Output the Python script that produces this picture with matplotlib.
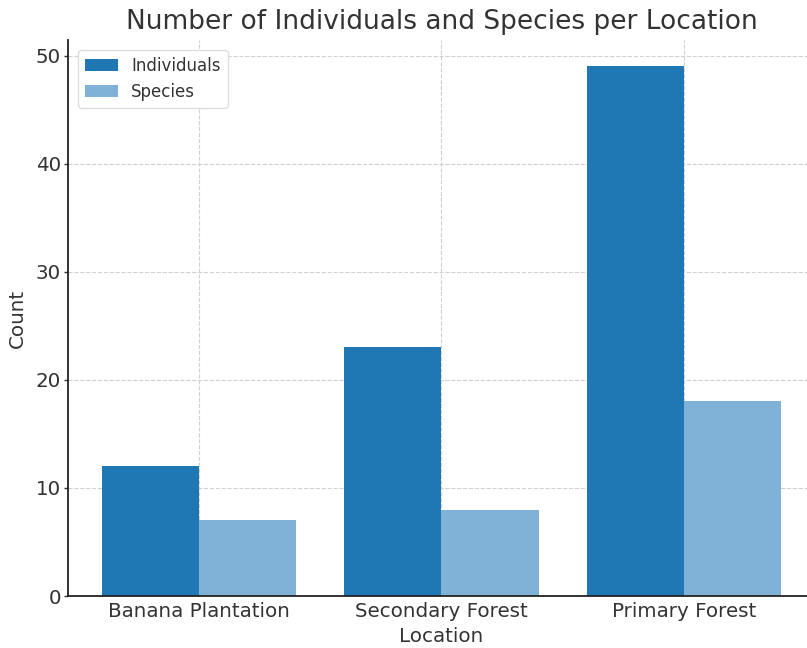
import numpy as np
import matplotlib.pyplot as plt

# counts per sampling location
locations = ['Banana Plantation', 'Secondary Forest', 'Primary Forest']
individuals = [12, 23, 49]
species = [7, 8, 18]

text_col = '#333333'
plt.rcParams['font.family'] = 'DejaVu Sans'
plt.rcParams['text.color'] = text_col
plt.rcParams['axes.labelcolor'] = text_col
plt.rcParams['xtick.color'] = text_col
plt.rcParams['ytick.color'] = text_col

fig = plt.figure(figsize=(8.07, 6.48), dpi=100)
ax = fig.add_axes([68 / 807, 52 / 648, (815 - 68) / 807, 556 / 648])

x = np.arange(len(locations))
width = 0.4

ax.bar(x - width / 2, individuals, width, label='Individuals', color='#1f77b4', zorder=2)
ax.bar(x + width / 2, species, width, label='Species', color='#7fb2d6', zorder=2)

ax.set_xticks(x)
ax.set_xticklabels(locations, fontsize=14.3)
ax.set_xlim(-0.54, 2.54)
ax.set_ylim(0, 51.45)
ax.set_yticks([0, 10, 20, 30, 40, 50])
ax.tick_params(axis='y', labelsize=14.3, length=3, width=1, pad=2)
ax.tick_params(axis='x', length=3, width=1, direction='in', pad=4)

ax.set_xlabel('Location', fontsize=14.3, labelpad=5)
ax.set_ylabel('Count', fontsize=14.3, labelpad=6)
ax.set_title('Number of Individuals and Species per Location', fontsize=19, pad=8)

ax.grid(True, linestyle='--', color='#d0d0d0', linewidth=0.8, zorder=0)
ax.set_axisbelow(True)
for side in ['top', 'right']:
    ax.spines[side].set_visible(False)
for side in ['left', 'bottom']:
    ax.spines[side].set_linewidth(1.3)
    ax.spines[side].set_color('#222222')

ax.legend(loc='upper left', fontsize=12, framealpha=1, edgecolor='#dddddd',
          borderaxespad=0.6)

fig.savefig('out.png', dpi=100)
